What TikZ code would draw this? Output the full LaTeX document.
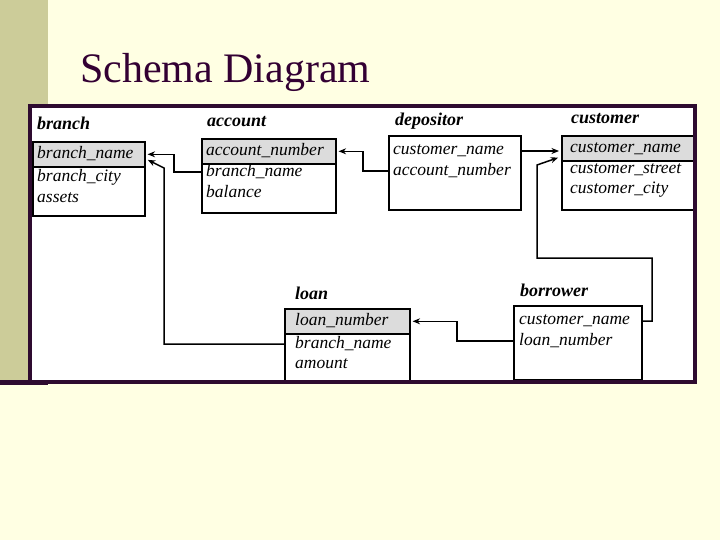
\documentclass[tikz,border=0pt]{standalone}
\usepackage{fontspec}
\setmainfont{Liberation Serif}
\usetikzlibrary{calc}
\usetikzlibrary{arrows.meta}
\definecolor{slidebg}{HTML}{FFFFE3}
\definecolor{olivebar}{HTML}{CCCC99}
\definecolor{framecol}{HTML}{2E0B30}
\definecolor{titlecol}{HTML}{330033}
\definecolor{keygray}{HTML}{DCDCDC}

\begin{document}
\begin{tikzpicture}[
	x=1pt, y=-1pt,
	>={Stealth[length=7.5pt,width=6pt]},
	tbl/.style={draw, line width=1.6pt, fill=white, anchor=north west, inner sep=0pt, minimum height=74pt},
	keyrow/.style={draw, line width=1.6pt, fill=keygray, anchor=north west, inner sep=0pt, minimum height=25pt},
	attr/.style={anchor=west, inner sep=0pt, font=\fontsize{17.5}{20}\selectfont\itshape},
	tname/.style={anchor=base west, inner sep=0pt, font=\fontsize{18}{20}\selectfont\bfseries\itshape},
	fk/.style={draw, line width=1.5pt, ->, shorten >=2pt}]

	% slide background
	\useasboundingbox (0,0) rectangle (720,540);
	\fill[slidebg] (0,0) rectangle (720,540);
	\fill[olivebar] (0,0) rectangle (48,382);
	\fill[framecol] (0,380) rectangle (48,385);
	\node[anchor=base west, inner sep=0pt, text=titlecol, font=\fontsize{42}{44}\selectfont] (title) at (80,83) {Schema Diagram};

	\fill[white] (30,106) rectangle (695,382);

	% branch
	\node[tbl, minimum width=112pt] (branch) at (32,141) {};
	\node[keyrow, minimum width=112pt] (branch-key) at (branch.north west) {};
	\node[tname] (branch-lbl) at (37,130) {branch};
	\node[attr] (branch-bn) at (37,154) {branch\_name};
	\node[attr] (branch-bc) at (37,177) {branch\_city};
	\node[attr] (branch-as) at (37,198) {assets};

	% account
	\node[tbl, minimum width=134pt] (account) at (201,138) {};
	\node[keyrow, minimum width=134pt] (account-key) at (account.north west) {};
	\node[tname] (account-lbl) at (207,127) {account};
	\node[attr] (account-an) at (206,151) {account\_number};
	\node[attr] (account-bn) at (206,172) {branch\_name};
	\node[attr] (account-ba) at (206,192) {balance};

	% depositor
	\node[tbl, minimum width=132pt] (depositor) at (388,135) {};
	\node[tname] (depositor-lbl) at (395,126) {depositor};
	\node[attr] (dep-cn) at (393,151) {customer\_name};
	\node[attr] (dep-an) at (393,171) {account\_number};

	% customer
	\node[tbl, minimum width=134pt] (customer) at (561,135) {};
	\node[keyrow, minimum width=134pt] (customer-key) at (customer.north west) {};
	\node[tname] (customer-lbl) at (571,124) {customer};
	\node[attr] (cust-cn) at (570,149) {customer\_name};
	\node[attr] (cust-cs) at (570,170) {customer\_street};
	\node[attr] (cust-cc) at (570,190) {customer\_city};

	% loan
	\node[tbl, minimum width=125pt] (loan) at (284,308) {};
	\node[keyrow, minimum width=125pt] (loan-key) at (loan.north west) {};
	\node[tname] (loan-lbl) at (295,299) {loan};
	\node[attr] (loan-ln) at (295,321) {loan\_number};
	\node[attr] (loan-bn) at (295,344) {branch\_name};
	\node[attr] (loan-am) at (295,364) {amount};

	% borrower
	\node[tbl, minimum width=128pt] (borrower) at (513,305) {};
	\node[tname] (borrower-lbl) at (520,296) {borrower};
	\node[attr] (bor-cn) at (519,321) {customer\_name};
	\node[attr] (bor-ln) at (519,341) {loan\_number};

	% foreign keys
	\coordinate (lb-knee) at (164,168);
	\coordinate (lb-tip) at (146,159);
	\coordinate (bc-up) at (652,258);
	\coordinate (bc-knee) at (537,165);
	\coordinate (bc-tip) at (560,157);

	\draw[fk] (account-bn.west -| account.west) -- ++(-27,0) |- (branch-key.east);
	\draw[fk] (loan-bn.west -| loan.west) -| (lb-knee) -- (lb-tip);
	\draw[fk] (dep-an.west -| depositor.west) -- ++(-25,0) |- (account-key.east);
	\draw[fk, line width=2pt] (dep-cn.west -| depositor.east) -- (dep-cn.west -| customer.west);
	\draw[fk] (bor-cn.west -| borrower.east) -| (bc-up) -| (bc-knee) -- (bc-tip);
	\draw[fk] (bor-ln.west -| borrower.west) -- ++(-56,0) |- (loan-key.east);

	% frame
	\draw[framecol, line width=4pt] (30,106) rectangle (695,382);

\end{tikzpicture}
\end{document}
